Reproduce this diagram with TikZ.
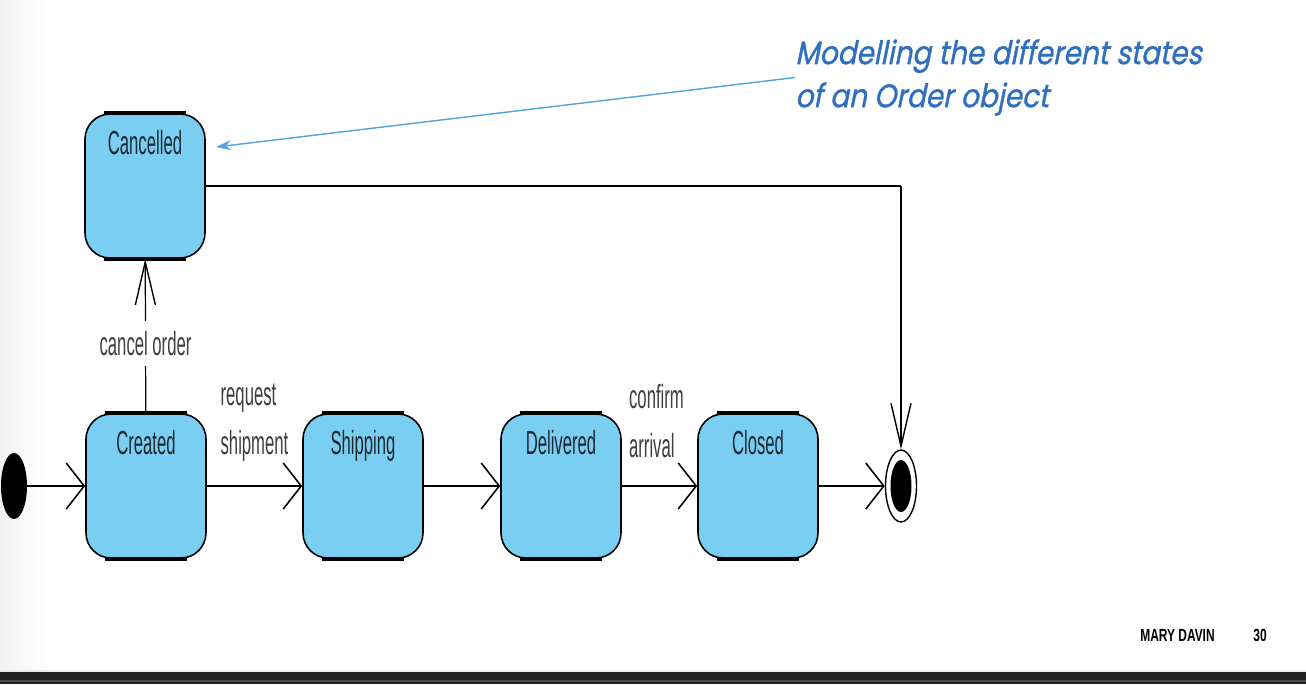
\documentclass[tikz,border=0pt]{standalone}
\usepackage{fontspec}
\usetikzlibrary{arrows.meta,shapes.geometric,calc}
\newfontfamily\narrowfont[FakeStretch=0.5]{Liberation Sans}
\newfontfamily\notefont[FakeSlant=0.2,FakeStretch=0.86,FakeBold=1]{Poppins}
\newfontfamily\footfont[FakeStretch=0.68]{Liberation Sans Bold}
\definecolor{boxblue}{RGB}{122,206,242}
\definecolor{noteblue}{RGB}{48,110,190}
\definecolor{pointerblue}{RGB}{80,163,220}
\definecolor{labelgray}{RGB}{62,62,62}
\definecolor{namegray}{RGB}{28,40,50}
\begin{document}
\begin{tikzpicture}[x=0.02cm,y=-0.02cm,
    state/.style={draw,line width=0.9pt,rounded corners=0.5cm,fill=boxblue,
      minimum width=2.4cm,inner xsep=0,inner ysep=0.25cm,text height=0.55cm,text depth=1.83cm,
      text=namegray,font=\narrowfont\fontsize{19}{19}\selectfont},
    tlabel/.style={text=labelgray,align=left,inner sep=0,font=\narrowfont\fontsize{19}{28}\selectfont},
    thickline/.style={line width=1.5pt},
    thinline/.style={line width=0.7pt},
    wide/.style={-{Straight Barb[length=0.36cm,width=0.92cm,line width=0.9pt]}},
    narrow/.style={-{Straight Barb[length=0.86cm,width=0.4cm,line width=0.8pt]}}]
  \useasboundingbox (0,0) rectangle (1306,684);
  % page
  \shade[left color=black!5,right color=white] (0,0) rectangle (48,670);
  \fill[black!8] (0,670) rectangle (1306,672);
  \fill[black!87] (0,672) rectangle (1306,684);
  \fill[black!70] (0,680) rectangle (1306,682);
  \node[anchor=base west,inner sep=0,font=\footfont\fontsize{10}{10}\selectfont] (author) at (1140,641) {MARY DAVIN};
  \node[anchor=base west,inner sep=0,font=\footfont\fontsize{10}{10}\selectfont] (page) at (1253,641) {30};
  % states
  \node[state] (cancelled) at (145,186) {Cancelled};
  \node[state] (created) at (146,486) {Created};
  \node[state] (shipping) at (363,486) {Shipping};
  \node[state] (delivered) at (561,486) {Delivered};
  \node[state] (closed) at (758,486) {Closed};
  \foreach \n in {cancelled,created,shipping,delivered,closed} {%
    \draw[line width=2pt] ($(\n.north west)+(20,0)$) -- ($(\n.north east)+(-20,0)$);
    \draw[line width=2pt] ($(\n.south west)+(20,0)$) -- ($(\n.south east)+(-20,0)$);
  }
  \node[ellipse,fill=black,minimum width=0.52cm,minimum height=1.32cm,inner sep=0] (init) at (14,486) {};
  \node[ellipse,draw,line width=0.8pt,minimum width=0.62cm,minimum height=1.44cm,inner sep=0] (final) at (901,486) {};
  \node[ellipse,fill=black,minimum width=0.42cm,minimum height=1.04cm,inner sep=0] (finaldot) at (final.center) {};
  % transitions
  \draw[thickline,wide] (init) -- (created);
  \draw[thickline,wide] (created) -- node[tlabel,above=0.46cm] (req) {request\\shipment} (shipping);
  \draw[thickline,wide] (shipping) -- (delivered);
  \draw[thickline,wide] (delivered) -- node[tlabel,above=0.53cm,xshift=-0.06cm] (conf) {confirm\\arrival} (closed);
  \draw[thickline,wide] (closed) -- (final);
  \draw[thinline,narrow] (created) -- node[tlabel,fill=white,inner sep=0.2cm,pos=0.45] (cancel) {cancel order} (cancelled);
  \coordinate (corner) at (final |- cancelled.east);
  \draw[thickline] (cancelled.east) -- (corner);
  \draw[thinline,narrow] (corner) -- (final.north);
  % note
  \node[anchor=north west,inner sep=0,align=left,text=noteblue,font=\notefont\fontsize{18.5}{24.5}\selectfont] (note) at (795,39) {Modelling the different states\\of an Order object};
  \coordinate (pointer) at (216,147);
  \draw[pointerblue,line width=0.8pt,-{Stealth[length=0.3cm,width=0.2cm]}] (note.west) -- (pointer);
\end{tikzpicture}
\end{document}
